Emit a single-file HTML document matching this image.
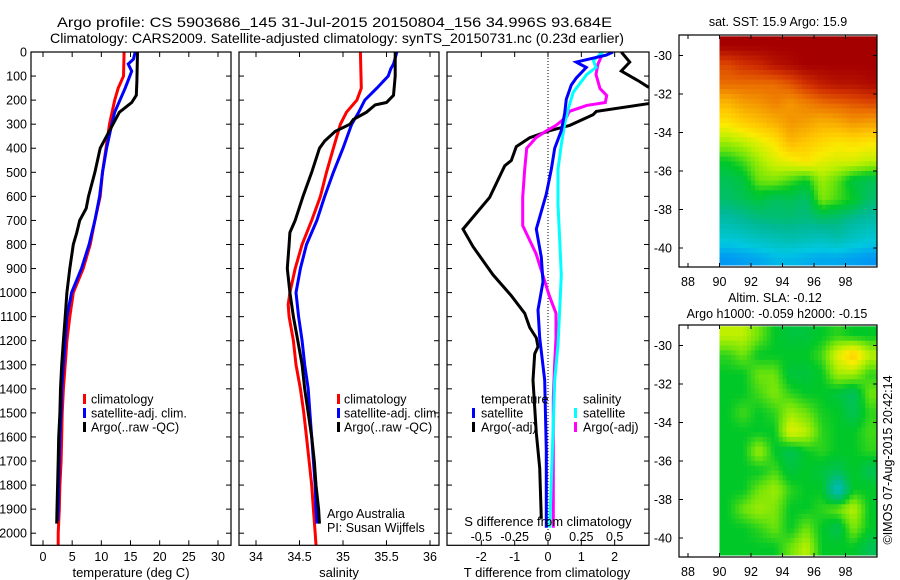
<!DOCTYPE html>
<html><head><meta charset="utf-8">
<style>
html,body{margin:0;padding:0;background:#fff;}
svg{display:block;font-family:"Liberation Sans",Arial,sans-serif;}
</style></head>
<body>
<svg id="fig" width="900" height="580" viewBox="0 0 900 580" xmlns="http://www.w3.org/2000/svg">
<text x="57" y="27" font-size="14" textLength="555" lengthAdjust="spacingAndGlyphs">Argo profile: CS 5903686_145 31-Jul-2015 20150804_156 34.996S 93.684E</text>
<text x="50" y="43" font-size="14" textLength="574" lengthAdjust="spacingAndGlyphs">Climatology: CARS2009. Satellite-adjusted climatology: synTS_20150731.nc (0.23d earlier)</text>
<g id="layer"></g>
</svg>
<script>
// ---------- profile data (depth m) ----------
const tClimDepth = [0,100,150,200,300,400,500,600,700,800,900,1000,1100,1200,1300,1400,1500,1600,1700,1800,1900,2000,2050];
const tClimVal   = [13.9,13.8,12.9,12.3,11.4,10.8,10.2,9.8,8.9,8.1,6.9,5.2,4.6,4.1,3.8,3.5,3.3,3.2,3.1,2.9,2.8,2.6,2.6];
const tSatDepth  = [0,30,50,80,150,250,300,400,500,600,700,800,900,1000,1100,1200,1300,1400,1500,1600,1700,1800,1900,1950];
const tSatVal    = [15.8,15.5,14.6,15.2,14.1,12.3,11.8,10.9,10.2,9.7,8.9,7.9,6.6,4.9,4.1,3.8,3.5,3.2,3.1,2.9,2.8,2.7,2.6,2.5];
const tArgoDepth = [0,120,180,210,250,300,350,400,500,600,650,700,750,800,900,1000,1100,1200,1300,1400,1500,1600,1700,1800,1900,1960];
const tArgoVal   = [16.2,16.1,16.0,15.2,13.1,12.0,10.9,9.8,8.9,7.8,7.4,6.3,5.8,5.2,4.6,4.1,3.8,3.5,3.2,3.0,2.9,2.7,2.6,2.5,2.4,2.35];

const sClimDepth = [0,150,200,250,300,400,500,600,700,800,900,1000,1050,1100,1200,1300,1400,1500,1600,1700,1800,1900,2000,2050];
const sClimVal   = [35.20,35.21,35.16,35.04,34.97,34.89,34.81,34.74,34.64,34.53,34.45,34.39,34.37,34.38,34.43,34.46,34.51,34.55,34.58,34.61,34.64,34.66,34.68,34.69];
const sSatDepth  = [0,50,70,100,150,200,250,300,400,500,600,700,800,900,1000,1100,1200,1300,1400,1500,1600,1700,1800,1900,1960];
const sSatVal    = [35.62,35.58,35.55,35.52,35.39,35.25,35.18,35.10,35.00,34.89,34.79,34.70,34.58,34.51,34.46,34.49,34.53,34.56,34.60,34.62,34.64,34.66,34.68,34.69,34.70];
const sArgoDepth = [0,100,180,210,220,250,280,300,330,370,400,500,600,700,750,800,900,1000,1100,1200,1300,1400,1500,1600,1700,1800,1900,1960];
const sArgoVal   = [35.60,35.60,35.58,35.50,35.37,35.27,35.12,35.08,34.91,34.79,34.73,34.64,34.54,34.45,34.39,34.38,34.36,34.39,34.43,34.48,34.53,34.56,34.60,34.64,34.67,34.69,34.72,34.73];

// differences from climatology
const dTArgoDepth = [0,42,79,123,145,159,196,215,247,261,305,327,356,393,451,473,604,736,809,926,1013,1086,1145,1188,1225,1254,1364,1583,1729,1940];
const dTArgoVal   = [2.2,2.45,2.2,2.75,3.0,3.5,3.5,3.0,1.45,1.35,0.65,0.05,-0.55,-0.95,-1.1,-1.3,-1.75,-2.55,-2.25,-1.65,-1.1,-0.7,-0.55,-0.35,-0.3,-0.4,-0.45,-0.35,-0.25,-0.2];
const dTSatDepth  = [0,13,42,50,64,108,137,196,254,327,400,488,590,663,736,853,955,1072,1188,1364,1656,1977];
const dTSatVal    = [1.95,1.75,0.85,0.95,1.15,0.85,0.7,0.55,0.5,0.4,0.2,0.1,-0.05,-0.2,-0.35,-0.2,-0.15,-0.3,-0.25,-0.1,-0.05,-0.05];
const dSSatDepth  = [0,35,64,94,167,240,298,385,488,634,780,926,1072,1218,1364,1656,1977];
const dSSatVal    = [0.41,0.34,0.36,0.29,0.19,0.15,0.125,0.1,0.075,0.075,0.088,0.1,0.088,0.075,0.05,0.033,0.013];
const dSArgoDepth = [0,20,50,93,152,181,210,222,247,269,305,327,356,400,488,604,721,750,838,926,1013,1086,1188,1291,1437,1656,1977];
const dSArgoVal   = [0.39,0.4,0.375,0.36,0.39,0.44,0.43,0.29,0.16,0.14,0.06,-0.01,-0.09,-0.16,-0.175,-0.19,-0.19,-0.165,-0.09,-0.04,0.01,0.06,0.06,0.05,0.04,0.04,0.04];

const depthTicks = [0,100,200,300,400,500,600,700,800,900,1000,1100,1200,1300,1400,1500,1600,1700,1800,1900,2000];
const tempTicks = [0,5,10,15,20,25,30];
const salTicks = [34,34.5,35,35.5,36];
const salTickLabels = ["34","34.5","35","35.5","36"];
const dTTicks = [-2,-1,0,1,2];
const dSTicks = [-0.5,-0.25,0,0.25,0.5];
const dSTickLabels = ["-0.5","-0.25","0","0.25","0.5"];

// ---------- map data (colour index, rows lat -29..-40, cols lon 90..99) ----------
const mapLats = [-29,-30,-31,-32,-33,-34,-35,-36,-37,-38,-39,-40];
const mapLons = [90,91,92,93,94,95,96,97,98,99];
const sstGrid = [
 [9,9,9,9,9,9,9,9,9,9],
 [8.3,8.5,8.6,8.8,8.9,9,9,9,9,9],
 [8,8,8,8,8.2,8.5,8.7,8.8,8.8,8.9],
 [7.2,7.5,7.6,7.8,7.6,7.8,8,8.1,8.2,8.3],
 [6.6,6.9,7.1,7.3,7.6,7.5,7.3,7.4,7.6,7.5],
 [5.8,6,6.3,6.6,7.2,7,6.8,6.6,6.7,6.6],
 [5,5.3,5.8,6.2,6.4,6.6,6.3,6.2,6.2,6],
 [4.6,4.8,5.5,5.6,5.3,5,5.8,5.4,4.8,4.6],
 [4.4,4.6,4.8,4.5,4.6,4.4,5.6,5.3,5,4.4],
 [3.8,4,4.2,4.3,4.3,4.2,4.4,4.3,4,3.8],
 [3.2,3.3,3.5,3.6,3.7,3.6,3.5,3.7,3.4,3.2],
 [2.4,2.5,2.6,2.8,2.8,2.7,2.6,2.6,2.5,2.4]];
const slaGrid = [
 [6,6,5.5,5,4.8,4.8,5,5.2,5,5],
 [5.2,5.5,5,5,5,5,5.3,6.3,7,6],
 [5,5,5.5,5.5,4.8,4.8,5,5.8,5.8,5.2],
 [5,5,5.3,5.6,5.2,5,5,4.8,4.5,5.5],
 [5,5.3,5,5.2,5.8,5.5,5.1,5,4.6,5.2],
 [5,5,5,5,6.3,6,5.2,5,5,5.3],
 [5,5,5.8,5,4.6,5,5.2,5,5,5.2],
 [5,5,5,5.3,4.8,5,4.8,4.6,5,4.6],
 [5,5,5.5,5.8,5.2,5,5,3.4,5,5],
 [5,5.5,5.8,5.6,5,5,5.2,5.5,6,5],
 [5,5,5.2,5.5,5,5.5,5,4.6,5.6,5],
 [5,5,5,5,5.5,6,5,5,5,4.6]];
const mapLatTicks = [-30,-32,-34,-36,-38,-40];
const mapLonTicks = [88,90,92,94,96,98];

// ---------- helpers ----------
const NS = "http://www.w3.org/2000/svg";
const layer = document.getElementById('layer');
function mk(tag, attrs, parent){
  const e = document.createElementNS(NS, tag);
  for (const k in attrs) e.setAttribute(k, attrs[k]);
  (parent||layer).appendChild(e);
  return e;
}
const TOP=52, BOT=545.3;
function yD(d){ return TOP + d*0.2406; }
function xT(t){ return 43 + t*5.833; }
function xS(s){ return 256 + (s-34)*87; }
function xDT(v){ return 548 + v*33.33; }
function xDS(s){ return 548 + s*133.3; }

function series(depths, vals, xf, color, name, clip){
  let d = '';
  for (let i=0;i<depths.length;i++){ d += (i?'L':'M') + xf(vals[i]).toFixed(1) + ',' + yD(depths[i]).toFixed(1); }
  const p = mk('path', {d:d, fill:'none', stroke:color, 'stroke-width':3, 'stroke-linejoin':'miter'});
  
  
  if (clip) p.setAttribute('clip-path', 'url(#'+clip+')');
  return p;
}
function txt(x,y,s,size,anchor,name){
  const t = mk('text', {x:x, y:y, 'font-size':size, 'text-anchor':anchor||'start'});
  t.textContent = s;
  
  
  return t;
}
function box(x0,y0,x1,y1,name){
  const r = mk('rect', {x:x0, y:y0, width:x1-x0, height:y1-y0, fill:'none', stroke:'#000', 'stroke-width':1.2});
  
  
}
function depthAxis(x0,x1,labels,name){
  const g = mk('g', {});
  
  
  depthTicks.forEach(d=>{
    const y = yD(d);
    mk('line', {x1:x0, x2:x0+5, y1:y, y2:y, stroke:'#000'}, g);
    mk('line', {x1:x1-5, x2:x1, y1:y, y2:y, stroke:'#000'}, g);
    if (labels){
      const t = mk('text', {x:x0-4, y:y+4.5, 'font-size':12.5, 'text-anchor':'end'}, g);
      t.textContent = String(d);
    }
  });
}
function xAxis(ticks, labels, xf, yLab, name){
  const g = mk('g', {});
  
  
  ticks.forEach((v,i)=>{
    const x = xf(v);
    mk('line', {x1:x, x2:x, y1:TOP, y2:TOP+5, stroke:'#000'}, g);
    mk('line', {x1:x, x2:x, y1:BOT-5, y2:BOT, stroke:'#000'}, g);
    if (yLab){
      const t = mk('text', {x:x, y:yLab, 'font-size':12.5, 'text-anchor':'middle'}, g);
      t.textContent = labels[i];
    }
  });
}
function legMark(x,y,color,name){
  const r = mk('rect', {x:x, y:y-5, width:3, height:10, fill:color});
  
  
}

const defs = mk('defs', {});
const cp = mk('clipPath', {id:'clip3'}, defs);
mk('rect', {x:447, y:TOP, width:202, height:BOT-TOP}, cp);

// ---------- panel 1: temperature ----------
series(tClimDepth, tClimVal, xT, '#ff0000', 'temp-climatology-line');
series(tSatDepth, tSatVal, xT, '#0000ff', 'temp-satellite-line');
series(tArgoDepth, tArgoVal, xT, '#000000', 'temp-argo-line');
box(31, TOP, 231, BOT, 'temperature-panel-frame');
depthAxis(31, 231, true, 'depth-axis');
xAxis(tempTicks, tempTicks.map(String), xT, 561, 'temperature-axis');
txt(131, 577, 'temperature (deg C)', 13, 'middle', 'temperature-axis-title');
legMark(83, 399, '#ff0000', 'legend-climatology-marker');
legMark(83, 413, '#0000ff', 'legend-satellite-marker');
legMark(83, 427, '#000000', 'legend-argo-marker');
txt(91, 403.5, 'climatology', 12.5, 'start', 'legend-climatology');
txt(91, 417.5, 'satellite-adj. clim.', 12.5, 'start', 'legend-satellite');
txt(91, 431.5, 'Argo(..raw -QC)', 12.5, 'start', 'legend-argo');

// ---------- panel 2: salinity ----------
series(sClimDepth, sClimVal, xS, '#ff0000', 'sal-climatology-line');
series(sSatDepth, sSatVal, xS, '#0000ff', 'sal-satellite-line');
series(sArgoDepth, sArgoVal, xS, '#000000', 'sal-argo-line');
box(239, TOP, 439, BOT, 'salinity-panel-frame');
depthAxis(239, 439, false, 'salinity-depth-ticks');
xAxis(salTicks, salTickLabels, xS, 561, 'salinity-axis');
txt(339, 577, 'salinity', 13, 'middle', 'salinity-axis-title');
legMark(337, 399, '#ff0000', 'legend2-climatology-marker');
legMark(337, 413, '#0000ff', 'legend2-satellite-marker');
legMark(337, 427, '#000000', 'legend2-argo-marker');
txt(344, 403.5, 'climatology', 12.5, 'start', 'legend2-climatology');
txt(344, 417.5, 'satellite-adj. clim.', 12.5, 'start', 'legend2-satellite');
txt(344, 431.5, 'Argo(..raw -QC)', 12.5, 'start', 'legend2-argo');
txt(327, 518, 'Argo Australia', 12.5, 'start', 'argo-australia-label');
txt(327, 532, 'PI: Susan Wijffels', 12.5, 'start', 'pi-label');

// ---------- panel 3: differences ----------
const zl = mk('line', {x1:xDT(0), x2:xDT(0), y1:TOP, y2:BOT, stroke:'#000', 'stroke-width':1, 'stroke-dasharray':'1,2'});


series(dTArgoDepth, dTArgoVal, xDT, '#000000', 'tdiff-argo-line', 'clip3');
series(dSArgoDepth, dSArgoVal, xDS, '#ff00ff', 'sdiff-argo-line', 'clip3');
series(dSSatDepth, dSSatVal, xDS, '#00ffff', 'sdiff-satellite-line', 'clip3');
series(dTSatDepth, dTSatVal, xDT, '#0000ff', 'tdiff-satellite-line', 'clip3');
box(447, TOP, 649, BOT, 'difference-panel-frame');
depthAxis(447, 649, false, 'difference-depth-ticks');
xAxis(dTTicks, dTTicks.map(String), xDT, 561, 'tdiff-axis');
txt(547, 577, 'T difference from climatology', 13, 'middle', 'tdiff-axis-title');
const sg = mk('g', {});


dSTicks.forEach((v,i)=>{ const t = mk('text', {x:xDS(v), y:541, 'font-size':12.5, 'text-anchor':'middle'}, sg); t.textContent = dSTickLabels[i]; });
txt(548, 526, 'S difference from climatology', 13, 'middle', 'sdiff-axis-title');
txt(481, 403.5, 'temperature', 12.5, 'start', 'legend3-temperature-header');
legMark(472, 413, '#0000ff', 'legend3-tsat-marker');
legMark(472, 427, '#000000', 'legend3-targo-marker');
txt(481, 417.5, 'satellite', 12.5, 'start', 'legend3-tsat');
txt(481, 431.5, 'Argo(-adj)', 12.5, 'start', 'legend3-targo');
txt(583, 403.5, 'salinity', 12.5, 'start', 'legend3-salinity-header');
legMark(574, 413, '#00ffff', 'legend3-ssat-marker');
legMark(574, 427, '#ff00ff', 'legend3-sargo-marker');
txt(583, 417.5, 'satellite', 12.5, 'start', 'legend3-ssat');
txt(583, 431.5, 'Argo(-adj)', 12.5, 'start', 'legend3-sargo');

// ---------- maps ----------
const cStops = [[0,[0,0,140]],[1,[0,40,220]],[2,[0,120,255]],[3,[0,200,225]],[4,[0,185,150]],[5,[0,200,40]],[5.5,[110,228,10]],[6,[190,240,0]],[6.5,[250,235,0]],[7,[255,200,0]],[7.5,[245,160,0]],[8,[235,110,0]],[8.5,[210,50,0]],[9,[165,0,0]]];
function cmap(v){
  for (let i=0;i<cStops.length-1;i++){
    const [a,ca]=cStops[i],[b,cb]=cStops[i+1];
    if (v<=b || i===cStops.length-2){
      const f=Math.max(0,Math.min(1,(v-a)/(b-a)));
      return 'rgb('+ca.map((c,j)=>Math.round(c+(cb[j]-c)*f)).join(',')+')';
    }
  }
}
function sampleGrid(grid, fr, fc){
  // fr, fc: fractional row/col in cell-centre coordinates
  const nr = grid.length, nc = grid[0].length;
  fr = Math.max(0, Math.min(nr-1, fr)); fc = Math.max(0, Math.min(nc-1, fc));
  const r0 = Math.floor(fr), c0 = Math.floor(fc);
  const r1 = Math.min(nr-1, r0+1), c1 = Math.min(nc-1, c0+1);
  const a = fr-r0, b = fc-c0;
  return grid[r0][c0]*(1-a)*(1-b) + grid[r0][c1]*(1-a)*b + grid[r1][c0]*a*(1-b) + grid[r1][c1]*a*b;
}
function drawMap(y0, grid, name){
  const latY = lat => y0 + 20.5 + (-30 - lat)*19.25;
  const lonX = lon => 688 + (lon-88)*15.75;
  const g = mk('g', {});
  
  
  const yTop = y0+1, yBot = y0+230;
  const SUB = 4;
  grid.forEach((row,r)=>{
    row.forEach((v,c)=>{
      for (let i=0;i<SUB;i++){
        for (let j=0;j<SUB;j++){
          const la = mapLats[r] - i/SUB, lo = mapLons[c] + j/SUB;
          const x = lonX(lo);
          let ya = Math.max(latY(la), yTop), yb = Math.min(latY(la-1/SUB), yBot);
          if (yb <= ya) continue;
          const val = sampleGrid(grid, r + (i+0.5)/SUB - 0.5, c + (j+0.5)/SUB - 0.5);
          const cell = mk('rect', {x:x.toFixed(1), y:ya.toFixed(1), width:(15.75/SUB+0.5).toFixed(2), height:(yb-ya+0.5).toFixed(1), fill:cmap(val)}, g);
          
          
        }
      }
    });
  });
  const x0=679, x1=877;
  mk('rect', {x:x1, y:y0, width:3, height:232, fill:'#fff'}, g);
  mk('rect', {x:x0, y:y0, width:x1-x0, height:232, fill:'none', stroke:'#000', 'stroke-width':1.2}, g);
  mapLatTicks.forEach(lat=>{
    const y = latY(lat);
    mk('line', {x1:x0, x2:x0+4, y1:y, y2:y, stroke:'#000'}, g);
    mk('line', {x1:x1-4, x2:x1, y1:y, y2:y, stroke:'#000'}, g);
    const t = mk('text', {x:x0-7, y:y+4.5, 'font-size':12.5, 'text-anchor':'end'}, g);
    t.textContent = String(lat);
  });
  mapLonTicks.forEach(lon=>{
    const x = lonX(lon);
    mk('line', {x1:x, x2:x, y1:y0, y2:y0+4, stroke:'#000'}, g);
    mk('line', {x1:x, x2:x, y1:y0+228, y2:y0+232, stroke:'#000'}, g);
    const t = mk('text', {x:x, y:y0+251, 'font-size':12.5, 'text-anchor':'middle'}, g);
    t.textContent = String(lon);
  });
}
drawMap(35, sstGrid, 'sst-map');
drawMap(325, slaGrid, 'sla-map');
txt(778, 26, 'sat. SST: 15.9 Argo: 15.9', 12.5, 'middle', 'sst-map-title');
txt(775, 302, 'Altim. SLA: -0.12', 12.5, 'middle', 'sla-map-title');
txt(777, 318, 'Argo h1000: -0.059 h2000: -0.15', 12.5, 'middle', 'sla-map-subtitle');
const cr = txt(0, 0, '©IMOS 07-Aug-2015 20:42:14', 12.5, 'middle', 'copyright-timestamp');
cr.setAttribute('transform', 'translate(892,460) rotate(-90)');
</script>
</body></html>
